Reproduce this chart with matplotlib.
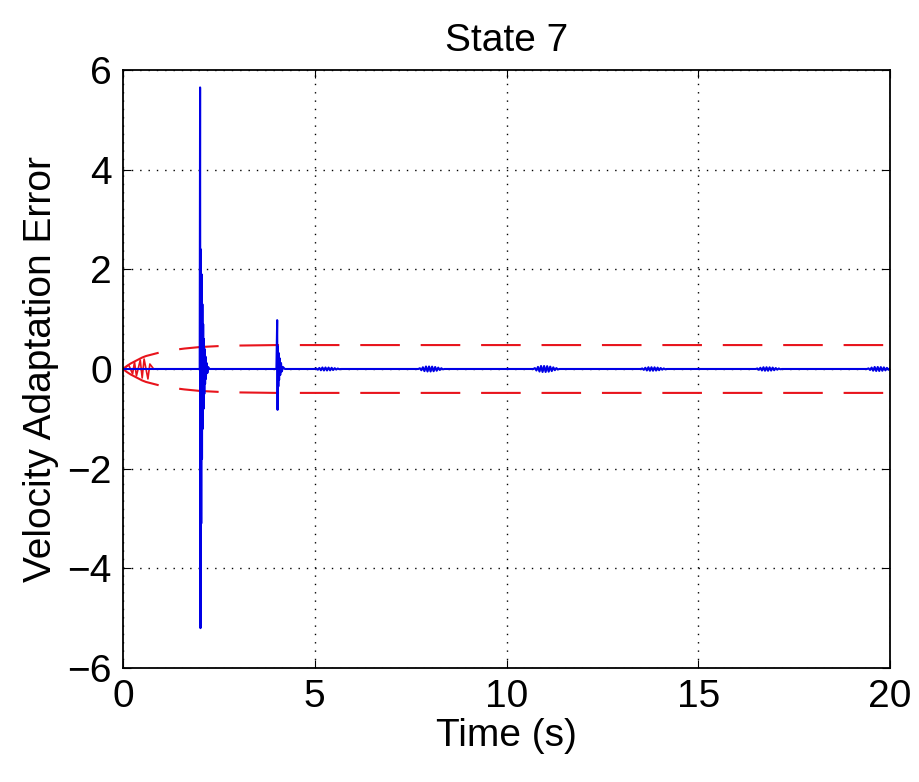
import numpy as np
import matplotlib.pyplot as plt

plt.rcParams['font.family'] = ['Liberation Sans', 'DejaVu Sans']

# Bursts of the velocity adaptation error (time offset, value)
burst1_t0 = 2.0
burst1_dt = [0.00, 0.01, 0.02, 0.03, 0.04, 0.05, 0.06, 0.07, 0.08, 0.09, 0.10,
             0.11, 0.12, 0.13, 0.14, 0.15, 0.16, 0.18, 0.20, 0.22, 0.25]
burst1_val = [0.0, 5.65, -5.2, 2.4, -3.1, 1.9, -1.8, 1.3, -1.2, 0.9, -0.8,
              0.6, -0.5, 0.4, -0.3, 0.25, -0.2, 0.12, -0.08, 0.04, 0.0]

burst2_t0 = 4.0
burst2_dt = [0.00, 0.02, 0.03, 0.04, 0.05, 0.06, 0.07, 0.08, 0.10, 0.12, 0.14, 0.17, 0.22]
burst2_val = [0.0, 0.98, -0.82, 0.45, -0.35, 0.32, -0.22, 0.22, -0.12, 0.12, -0.05, 0.04, 0.0]

# small later ripples: start time, peak amplitude, and a fixed wiggle shape
small_t0 = [5.0, 7.7, 10.7, 13.5, 16.5, 19.4]
small_amp = [0.03, 0.05, 0.06, 0.035, 0.035, 0.04]
small_dt = [0.00, 0.04, 0.08, 0.12, 0.16, 0.20, 0.24, 0.28, 0.32, 0.36,
            0.40, 0.44, 0.48, 0.52, 0.56, 0.60, 0.64, 0.68]
small_shape = [0.0, 0.3, -0.5, 0.7, -0.85, 1.0, -1.0, 1.0, -1.0, 0.95,
               -0.9, 0.8, -0.7, 0.55, -0.4, 0.3, -0.15, 0.0]

# Adaptation bound (upper, lower is mirrored)
bound_t = [0.0, 0.1, 0.2, 0.3, 0.4, 0.5, 0.6, 0.8, 1.0, 1.3, 1.6, 2.0, 2.5, 3.0, 4.0, 20.0]
bound_up = [0.0, 0.06, 0.11, 0.15, 0.19, 0.23, 0.26, 0.30, 0.34, 0.38, 0.41, 0.44, 0.46, 0.47, 0.48, 0.48]

# early red transient inside the bound
red_t = [0.0, 0.15, 0.25, 0.3, 0.35, 0.45, 0.5, 0.55, 0.65, 0.7, 0.8]
red_v = [0.0, 0.08, -0.1, 0.14, -0.14, 0.18, -0.18, 0.2, -0.2, 0.1, 0.0]

t = [0.0]
y = [0.0]
for dt, v in zip(burst1_dt, burst1_val):
    t.append(burst1_t0 + dt)
    y.append(v)
for dt, v in zip(burst2_dt, burst2_val):
    t.append(burst2_t0 + dt)
    y.append(v)
for t0, a in zip(small_t0, small_amp):
    for dt, s in zip(small_dt, small_shape):
        t.append(t0 + dt)
        y.append(a * s)
t.append(20.0)
y.append(0.0)

fig = plt.figure(figsize=(9.2, 7.82), dpi=100)
ax = fig.add_axes([0.1337, 0.1458, 0.8337, 0.7647])

ax.plot(bound_t, bound_up, color='#e8141c', lw=1.5, dashes=(19, 10))
ax.plot(bound_t, [-v for v in bound_up], color='#e8141c', lw=1.5, dashes=(19, 10))
ax.plot(red_t, red_v, color='#e8141c', lw=1.2)
ax.plot(t, y, color='#0000e6', lw=1.5)

ax.set_xlim(0, 20)
ax.set_ylim(-6, 6)
ax.set_xticks([0, 5, 10, 15, 20])
ax.set_yticks([-6, -4, -2, 0, 2, 4, 6])
ax.set_yticklabels(['\u22126', '\u22124', '\u22122', '0', '2', '4', '6'])
ax.grid(True, color='black', linestyle=(0, (1, 5)), lw=1)
ax.tick_params(direction='in', top=True, right=True, length=6, labelsize=28, pad=8)
for s in ax.spines.values():
    s.set_linewidth(1.3)

ax.set_title('State 7', fontsize=28, pad=14)
ax.set_xlabel('Time (s)', fontsize=28, labelpad=2)
ax.set_ylabel('Velocity Adaptation Error', fontsize=28, labelpad=6)

fig.savefig('out.png', dpi=100)
